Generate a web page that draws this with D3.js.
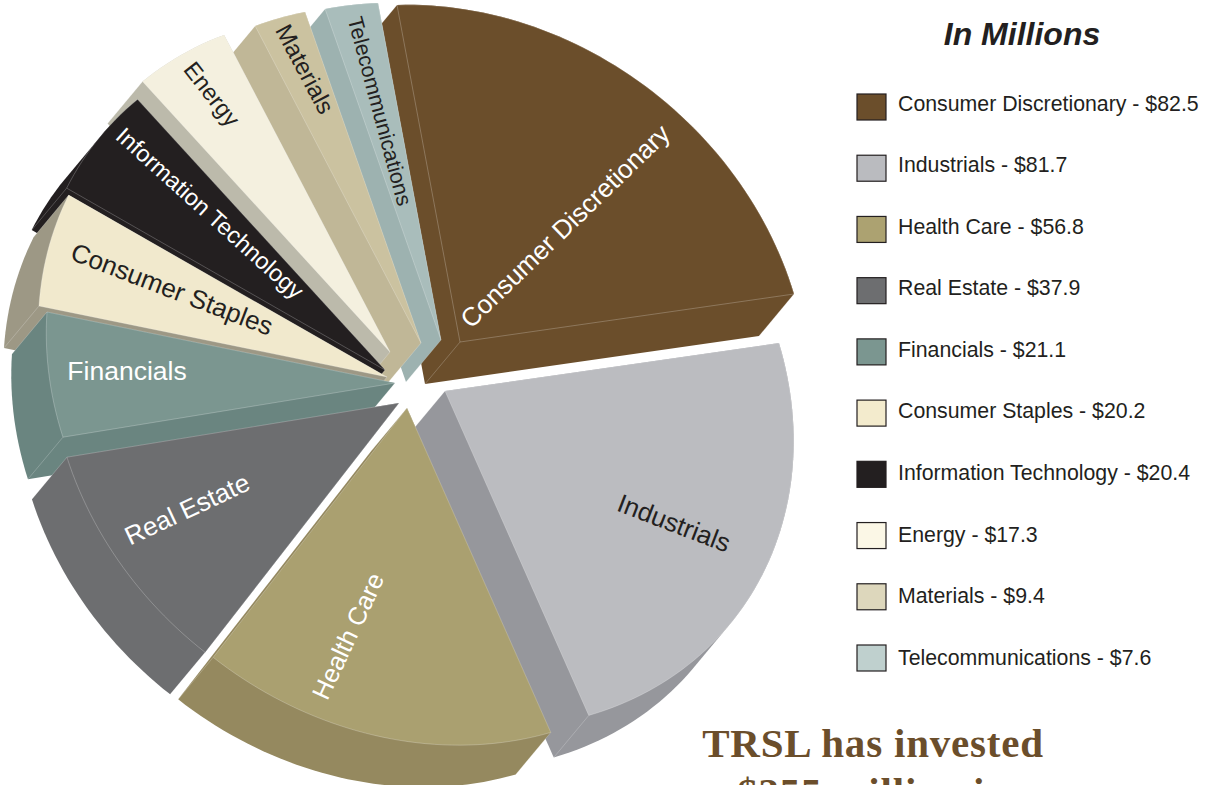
<!DOCTYPE html>
<html><head><meta charset="utf-8">
<script src="https://cdn.jsdelivr.net/npm/d3@7/dist/d3.min.js"></script>
<style>html,body{margin:0;padding:0;background:#fff;overflow:hidden}svg{display:block}</style>
</head><body><svg id="c" width="1211" height="785"></svg>
<script>
// Data
const sectors = ["Consumer Discretionary","Industrials","Health Care","Real Estate","Financials","Consumer Staples","Information Technology","Energy","Materials","Telecommunications"];
const amounts = [82.5,81.7,56.8,37.9,21.1,20.2,20.4,17.3,9.4,7.6];

// Styles
const topColors  = ["#6b4e2b","#bbbcc0","#aaa070","#6d6e70","#7b9690","#f1e9cd","#231f20","#f4f0df","#cbc2a0","#a9bdbb"];
const sideColors = ["#6b4e2b","#96979c","#95895f","#6d6e70","#6a8580","#9d9885","#231f20","#bcbaab","#c0b797","#9db2b0"];
const swatches   = ["#6b4e2b","#babbbf","#aca271","#6d6e70","#7b9690","#f3ebcd","#231f20","#fbf7e6","#ddd7bc","#bfd0ce"];

// Layout: tilted pie frame, extrusion depth, exploded centres, paint order, labels
const axisNorth = [-63,-337], axisEast = [343,-11], depth = [-35,42];
const centresX = [460,445,407,399,395,387,385,390,421,441];
const centresY = [342,391,408,403,383,377,370,352,343,340];
const boundaryNudge = [0,0,-0.5,0,0,0,0,0,-0.75,-1.3,0]; // degrees, drawn-art deviation from an exact pie
const paintOrder = [0,9,8,7,6,5,4,3,1,2];
const labelX = [565,674,348,187,127,172,210,212,305,380];
const labelY = [226,523,636,509,371,289,213,94,69,111];
const labelRot = [-44,21,-65,-25,0,21,42,52,62,75];
const labelSize = [26,26,25.5,26,26.5,26,23.5,23.5,24,21.5];
const labelFill = ["#fff","#231f20","#fff","#fff","#fff","#231f20","#fff","#231f20","#231f20","#231f20"];

const svg = d3.select("#c");
const arcs = d3.pie().sort(null).startAngle(0).endAngle(2*Math.PI)(amounts);
const path = d3.line().curve(d3.curveLinearClosed);
const rad = d => d*Math.PI/180;

function project(i, a){
  return [centresX[i] + axisNorth[0]*Math.cos(a) + axisEast[0]*Math.sin(a),
          centresY[i] + axisNorth[1]*Math.cos(a) + axisEast[1]*Math.sin(a)];
}

const slices = paintOrder.map(i => {
  const d = arcs[i], apex = [centresX[i],centresY[i]];
  const a0 = d.startAngle + rad(boundaryNudge[i]), a1 = d.endAngle + rad(boundaryNudge[i+1]);
  const n = Math.max(8, Math.ceil((a1-a0)*40));
  const rim = d3.range(n+1).map(k => project(i, a0 + (a1-a0)*k/n));
  const face = [apex, ...rim];
  const moved = p => [p[0]+depth[0], p[1]+depth[1]];
  return {i, apex, rim, face, hull: d3.polygonHull(face.concat(face.map(moved))), moved};
});

const g = svg.selectAll("g.slice").data(slices).join("g").attr("class","slice");
g.append("path").attr("d", s => path(s.hull)).attr("fill", s => sideColors[s.i]);
// ridge lines running down the side faces
g.selectAll("line").data(s => [s.apex, s.rim[0], s.rim[s.rim.length-1]].map(p => ({p, s}))).join("line")
  .attr("x1", d => d.p[0]).attr("y1", d => d.p[1])
  .attr("x2", d => d.s.moved(d.p)[0]).attr("y2", d => d.s.moved(d.p)[1])
  .attr("stroke","#fff").attr("stroke-opacity",0.35).attr("stroke-width",0.6);
g.append("path").attr("d", s => path(s.face)).attr("fill", s => topColors[s.i])
  .attr("stroke","#fff").attr("stroke-opacity",0.4).attr("stroke-width",0.6);

// Slice labels
svg.selectAll("text.lab").data(sectors).join("text").attr("class","lab")
  .attr("transform",(d,i)=>`translate(${labelX[i]},${labelY[i]}) rotate(${labelRot[i]})`)
  .attr("text-anchor","middle").attr("dy","0.35em")
  .attr("font-family","'Liberation Sans',Arial,sans-serif")
  .attr("font-size",(d,i)=>labelSize[i]).attr("fill",(d,i)=>labelFill[i]).text(d=>d);

// Legend
const swatchY = d3.scaleLinear().domain([0,9]).range([107,658]);
const textY = d3.scaleLinear().domain([0,9]).range([103,657]);
svg.append("text").attr("x",1022).attr("y",45).attr("text-anchor","middle")
  .attr("font-family","'Liberation Sans',Arial,sans-serif").attr("font-weight","bold").attr("font-style","italic")
  .attr("font-size",32).attr("fill","#231f20").text("In Millions");
svg.selectAll("rect.sw").data(sectors).join("rect").attr("class","sw")
  .attr("x",857).attr("y",(d,i)=>swatchY(i)-13).attr("width",29).attr("height",26)
  .attr("fill",(d,i)=>swatches[i]).attr("stroke","#231f20").attr("stroke-width",1.2);
svg.selectAll("text.row").data(sectors).join("text").attr("class","row")
  .attr("x",898).attr("y",(d,i)=>textY(i)).attr("dy","0.36em")
  .attr("font-family","'Liberation Sans',Arial,sans-serif").attr("font-size",21.3).attr("fill","#231f20")
  .text((d,i)=>`${d} - $${amounts[i].toFixed(1)}`);

// Caption, cut off by the page edge as in the reference
const caption = ["TRSL has invested","$355 million in"];
svg.selectAll("text.cap").data(caption).join("text").attr("class","cap")
  .attr("x",873).attr("y",(d,i)=>757+i*49).attr("text-anchor","middle")
  .attr("font-family","'Liberation Serif',Georgia,serif").attr("font-weight","bold")
  .attr("font-size",41).attr("letter-spacing",0.8).attr("fill","#6b4e2b").text(d=>d);
</script></body></html>
